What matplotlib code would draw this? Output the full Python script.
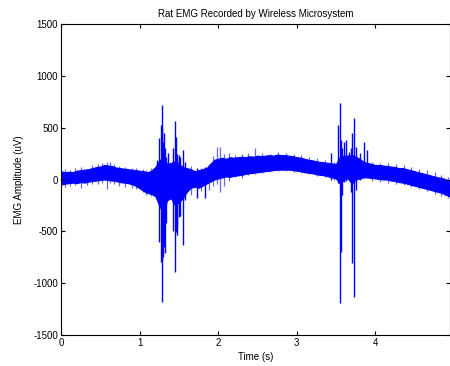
import numpy as np
import matplotlib
matplotlib.use("Agg")
import matplotlib.pyplot as plt

# ---- data (uV) ----
step_s = 0.05
band_upper = [80, 70, 75, 70, 85, 90, 95, 100, 110, 120,
              125, 140, 135, 130, 115, 110, 105, 100, 95, 90,
              85, 80, 70, 85, 120, 180, 220, 150, 160, 180,
              150, 120, 110, 100, 80, 90, 100, 110, 150, 190,
              200, 210, 200, 215, 210, 215, 220, 215, 225, 220,
              230, 225, 230, 235, 230, 240, 235, 235, 230, 225,
              215, 210, 200, 190, 185, 175, 170, 165, 160, 155,
              150, 220, 230, 230, 240, 220, 200, 170, 160, 150,
              140, 140, 135, 130, 125, 120, 110, 110, 100, 90,
              80, 70, 60, 50, 40, 30, 20, 15, 0, -10]
band_lower = [-50, -40, -35, -30, -35, -25, -30, -20, -15, -10,
              -5, 0, -5, -10, -15, -25, -30, -35, -45, -60,
              -85, -110, -130, -140, -160, -250, -330, -200, -180, -250,
              -220, -180, -120, -80, -70, -80, -60, -40, -20, 0,
              10, 20, 30, 25, 35, 40, 45, 55, 60, 65,
              70, 75, 80, 85, 90, 95, 95, 95, 95, 90,
              85, 80, 70, 65, 60, 50, 45, 40, 30, 20,
              10, -40, 0, 10, -40, 0, 10, 20, 20, 15,
              10, 5, 0, 0, -10, -15, -25, -30, -40, -50,
              -60, -70, -80, -90, -100, -110, -120, -130, -150, -160]

# large bursts: time (s), min (uV), max (uV)
spike_t = [1.22, 1.25, 1.275, 1.28, 1.29, 1.30, 1.31, 1.325, 1.34, 1.36, 1.43, 1.445, 1.46, 1.47, 1.48,
           1.50, 1.52, 1.55, 1.58, 1.73, 1.83,
           3.43, 3.525, 3.545, 3.56, 3.58, 3.60, 3.63, 3.66, 3.69, 3.70, 3.73, 3.76, 3.80, 3.86, 3.90]
spike_lo = [-150, -600, -793, -776, -1178, -745, -650, -709, -420, -130, -500, -889, -503, -450, -535,
            -359, -350, -632, -198, -181, -181,
            0, -34, -1194, -696, -150, -20, -10, 0, -120, -808, -1130, -101, 0, 20, 20]
spike_hi = [188, 400, 525, 500, 719, 365, 450, 304, 220, 256, 300, 567, 413, 250, 220,
            240, 220, 284, 172, 110, 120,
            256, 525, 735, 381, 300, 365, 381, 268, 300, 445, 590, 316, 256, 365, 284]

# small outlier ticks along the trace: time (s), min (uV), max (uV)
tick_t = [0.05, 0.12, 0.18, 0.26, 0.33, 0.40, 0.47, 0.52, 0.58, 0.62, 0.68, 0.74, 0.82, 0.90, 0.96,
          1.04, 1.08, 1.14, 1.66, 1.78, 1.88, 1.93, 1.98, 2.02, 2.08, 2.14, 2.22, 2.30, 2.38,
          2.47, 2.56, 2.66, 2.76, 2.86, 2.96, 3.06, 3.16, 3.26, 3.36, 3.48,
          3.96, 4.06, 4.16, 4.26, 4.36, 4.46, 4.56, 4.66, 4.76, 4.84, 4.92]
tick_lo = [-70, -60, -55, -80, -50, -45, -40, -30, -90, -35, -40, -60, -70, -80, -90,
           -120, -150, -160, -150, -110, -100, -60, -40, -117, -60, -10, 20, 10, 40,
           50, 60, 70, 80, 80, 70, 60, 50, 30, 20, -5,
           -10, -20, -30, -40, -50, -70, -90, -110, -140, -160, -180]
tick_hi = [100, 95, 110, 120, 105, 140, 150, 160, 172, 165, 150, 135, 125, 115, 108,
           100, 95, 110, 130, 111, 150, 230, 316, 316, 250, 260, 240, 250, 260,
           304, 260, 250, 262, 255, 245, 235, 220, 205, 190, 172,
           165, 160, 156, 145, 140, 120, 100, 90, 70, 40, 20]

y_ticks = [-1500, -1000, -500, 0, 500, 1000, 1500]
x_ticks = [0, 1, 2, 3, 4]

# ---- plot ----
plt.rcParams['font.family'] = ['Liberation Sans', 'DejaVu Sans']
plt.rcParams['axes.unicode_minus'] = False
fig = plt.figure(figsize=(4.5, 3.66), dpi=100)
ax = fig.add_axes([61/450, 31/366, 389/450, 311/366])

t_band = np.arange(len(band_upper)) * step_s
blue = (0, 0, 1)
ax.fill_between(t_band, band_lower, band_upper, color=blue, lw=0.8, edgecolor=blue)
ax.vlines(tick_t, tick_lo, tick_hi, color=blue, lw=0.9, alpha=0.6)
ax.vlines(spike_t, spike_lo, spike_hi, color=blue, lw=1.0)

ax.set_xlim(0, 4.95)
ax.set_ylim(-1500, 1500)
ax.set_xticks(x_ticks)
ax.set_yticks(y_ticks)
ax.tick_params(direction='in', length=3, width=0.8, labelsize=7, top=True, right=True, pad=2)
for s in ax.spines.values():
    s.set_linewidth(0.8)
ax.set_title('Rat EMG Recorded by Wireless Microsystem', fontsize=7, pad=5)
ax.set_xlabel('Time (s)', fontsize=7, labelpad=3)
ax.set_ylabel('EMG Amplitude (uV)', fontsize=7, labelpad=7)

fig.savefig('out.png', dpi=100)
